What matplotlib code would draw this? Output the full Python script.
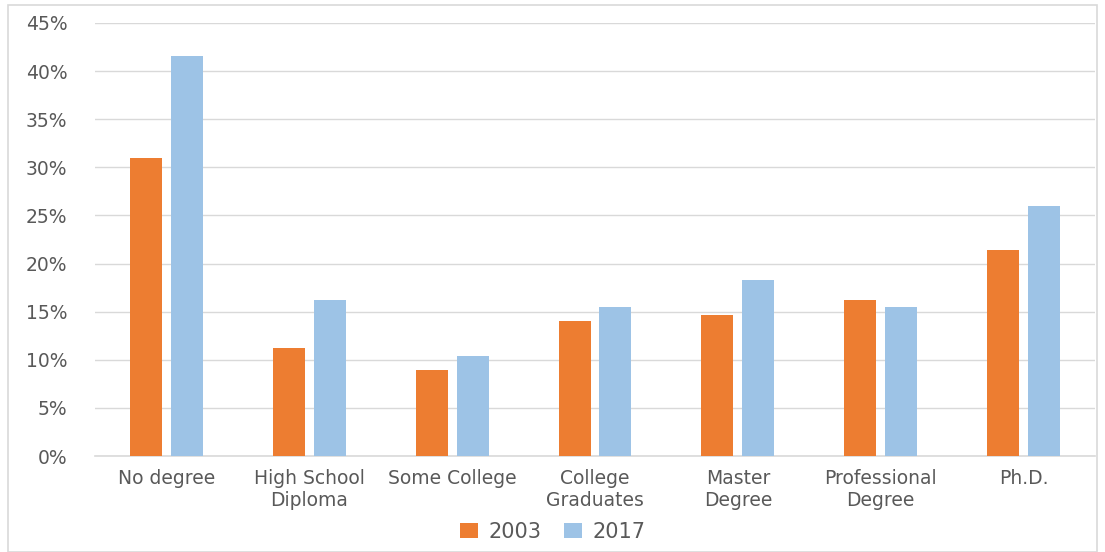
import numpy as np
import matplotlib.pyplot as plt
from matplotlib.patches import Rectangle

categories = ['No degree', 'High School\nDiploma', 'Some College', 'College\nGraduates',
              'Master\nDegree', 'Professional\nDegree', 'Ph.D.']
vals_2003 = [31.0, 11.2, 8.9, 14.0, 14.7, 16.2, 21.4]
vals_2017 = [41.6, 16.2, 10.4, 15.5, 18.3, 15.5, 26.0]
yticks = [0, 5, 10, 15, 20, 25, 30, 35, 40, 45]

orange = '#ED7D31'
blue = '#9DC3E6'
txt = '#595959'

plt.rcParams['font.family'] = ['DejaVu Sans']

fig = plt.figure(figsize=(11.05, 5.52), dpi=100)
ax = fig.add_axes([95 / 1105, 1 - 456 / 552, 1000 / 1105, (456 - 23) / 552])

x = np.arange(len(categories))
w = 0.224
off = 0.143
ax.bar(x - off, vals_2003, w, color=orange, label='2003', zorder=3)
ax.bar(x + off, vals_2017, w, color=blue, label='2017', zorder=3)

ax.set_xlim(-0.5, len(categories) - 0.5)
ax.set_ylim(0, 45)
ax.set_yticks(yticks)
ax.set_yticklabels([f'{t}%' for t in yticks], color=txt, fontsize=13.5)
ax.set_xticks(x)
ax.set_xticklabels(categories, color=txt, fontsize=13.5, linespacing=1.25)
ax.tick_params(length=0)
ax.tick_params(axis='x', pad=9)
ax.tick_params(axis='y', pad=20)

ax.grid(axis='y', color='#D9D9D9', linewidth=1, zorder=0)
for s in ['top', 'right', 'left']:
    ax.spines[s].set_visible(False)
ax.spines['bottom'].set_color('#D9D9D9')
ax.spines['bottom'].set_linewidth(1.2)

leg = fig.legend(loc='center', bbox_to_anchor=(0.5, 1 - 532 / 552), ncol=2, frameon=False,
                 fontsize=15, handlelength=0.85, handleheight=0.7, columnspacing=1.1,
                 handletextpad=0.5)
for t in leg.get_texts():
    t.set_color(txt)

fig.patches.append(Rectangle((8 / 1105, 0.0), 1 - 16 / 1105, 1 - 5 / 552,
                             transform=fig.transFigure, fill=False,
                             edgecolor='#D9D9D9', linewidth=1.2))

fig.savefig('out.png', dpi=100)
